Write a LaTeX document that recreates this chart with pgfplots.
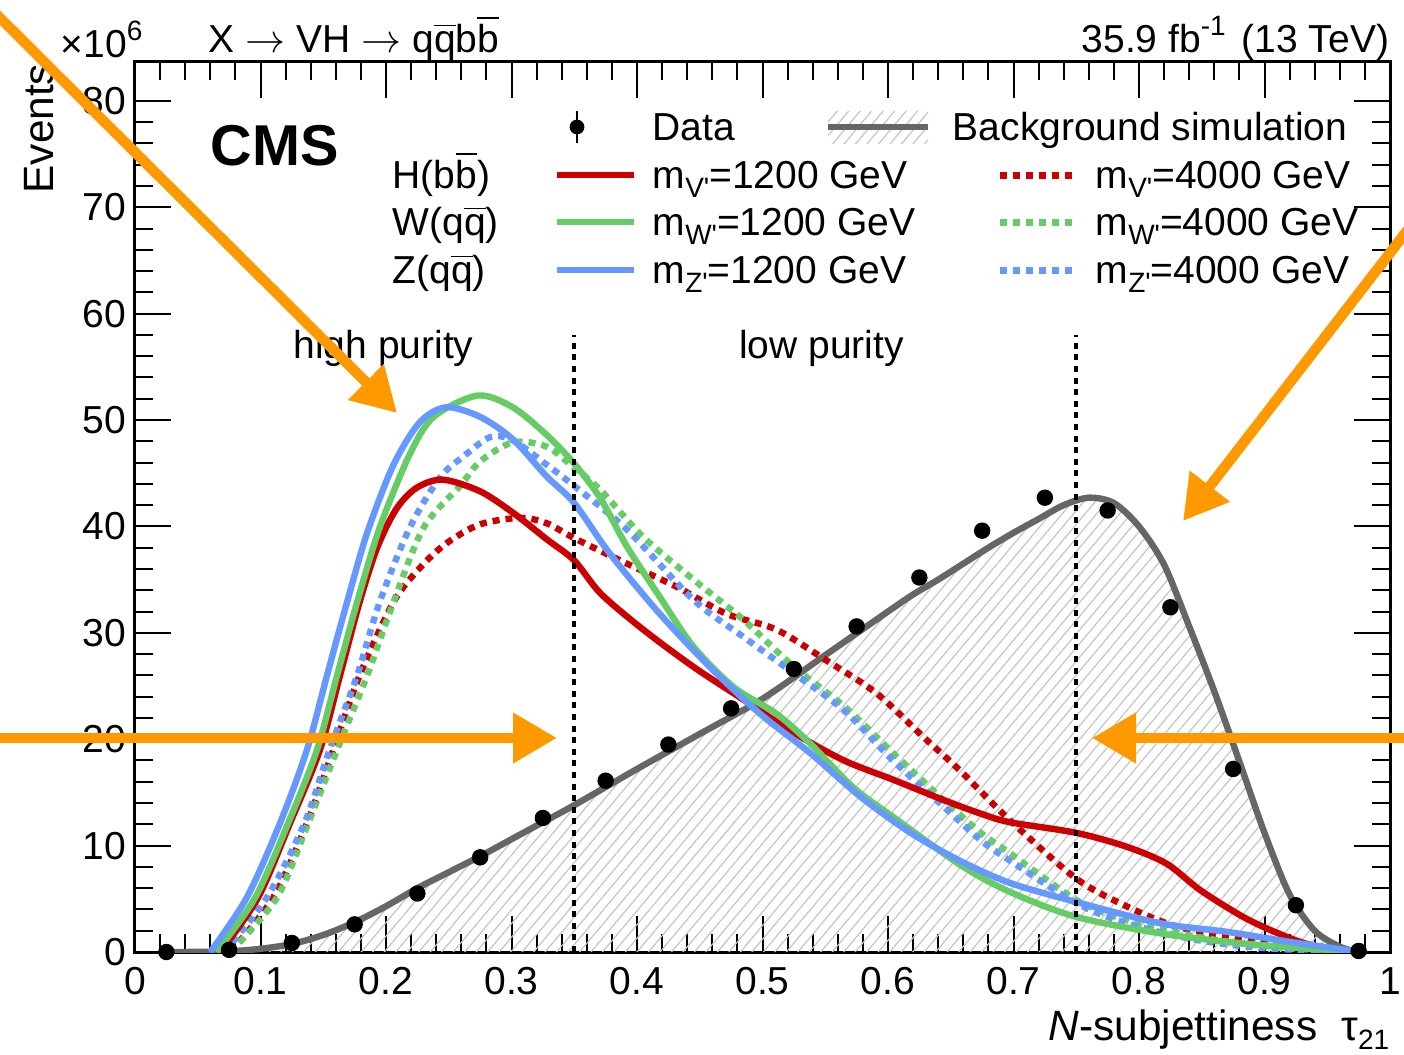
\documentclass[border=0pt]{standalone}
\usepackage{fontspec}
\setmainfont{Liberation Sans}[Ligatures=TeXOff]
\usepackage{pgfplots}
\pgfplotsset{compat=1.18}
\usetikzlibrary{arrows.meta,patterns.meta}

\definecolor{sigred}{RGB}{204,0,0}
\definecolor{siggreen}{RGB}{102,204,102}
\definecolor{sigblue}{RGB}{102,153,255}
\definecolor{bkggray}{RGB}{102,102,102}
\definecolor{hatchgray}{RGB}{196,196,196}
\definecolor{arroworange}{RGB}{255,153,0}

\newcommand{\tf}{\fontsize{9.75}{11.7}\selectfont}
\newcommand{\lf}{\fontsize{10.6}{12.5}\selectfont}
\newcommand{\sub}[1]{\raisebox{-2.3pt}{\fontsize{7}{8}\selectfont #1}}
\newcommand{\super}[1]{\raisebox{4.2pt}{\fontsize{7}{8}\selectfont #1}}
\newcommand{\ovl}[1]{$\overline{\mbox{#1}}$}

\tikzset{
  sig/.style={line width=1.6pt, smooth},
  sigdot/.style={line width=1.6pt, smooth, dash pattern=on 1.75pt off 1.5pt},
  hatch/.style={pattern={Lines[angle=50, distance=2.2pt, line width=0.3pt]}, pattern color=hatchgray},
}

\pgfplotstableread{
x      y
0.025  0
0.06   0.02
0.08   0.1
0.10   0.3
0.125  0.75
0.15   1.6
0.175  2.8
0.20   4.3
0.225  6.0
0.25   7.5
0.275  9.0
0.30   10.6
0.325  12.2
0.35   13.8
0.40   17.2
0.45   20.5
0.50   23.8
0.55   27.9
0.60   32.0
0.62   33.6
0.64   35.0
0.66   36.5
0.68   38.0
0.70   39.4
0.72   40.7
0.74   42.0
0.76   42.7
0.78   42.2
0.80   40.0
0.82   36.4
0.84   30.6
0.86   24.5
0.88   17.9
0.90   11.2
0.92   5.4
0.94   2.0
0.96   0.5
0.975  0
}\bkg

\begin{document}
\begin{tikzpicture}
\path[use as bounding box] (0,0) rectangle (351pt,263.5pt);
\begin{axis}[
  at={(33.75pt,25.5pt)}, anchor=south west,
  scale only axis, width=313.75pt, height=222.5pt,
  xmin=0, xmax=1, ymin=0, ymax=83.65,
  xtick={0,0.1,0.2,0.3,0.4,0.5,0.6,0.7,0.8,0.9,1},
  xticklabels={0,0.1,0.2,0.3,0.4,0.5,0.6,0.7,0.8,0.9,1},
  ytick={0,10,20,30,40,50,60,70,80},
  yticklabels={0,10,20,30,40,50,60,70,80},
  minor x tick num=4, minor y tick num=4,
  tick align=inside, xtick pos=both, ytick pos=both,
  xticklabel pos=bottom, yticklabel pos=left,
  major tick length=9pt, minor tick length=4.5pt,
  every tick/.style={black, line width=0.5pt},
  axis line style={line width=0.75pt},
  tick label style={font=\tf},
  xticklabel style={anchor=base, inner sep=0pt, yshift=-10.5pt},
  yticklabel style={anchor=east, inner sep=0pt, xshift=-2pt},
]
% background simulation: hatched area and line
\addplot[draw=none, hatch, smooth] table {\bkg} \closedcycle;
\addplot[bkggray, line width=1.6pt, smooth] table {\bkg};
% 4000 GeV (dotted)
\addplot[sigdot, sigred] coordinates {
(0.076,0)(0.110,5.1)(0.137,12.1)(0.158,19.0)(0.179,26.0)(0.206,32.9)(0.227,36.1)(0.248,38.4)(0.275,40.2)(0.307,40.8)(0.328,40.3)(0.350,38.9)(0.392,36.5)(0.432,34.3)(0.471,31.8)(0.511,30.3)(0.551,27.4)(0.591,24.3)(0.631,19.9)(0.657,17.1)(0.697,12.4)(0.750,6.9)(0.790,4.3)(0.830,2.4)(0.883,1.2)(0.937,0.43)(0.97,0.1)
};
\addplot[sigdot, siggreen] coordinates {
(0.076,0)(0.113,5.1)(0.138,12.1)(0.161,19.0)(0.185,26.0)(0.206,32.9)(0.230,39.9)(0.259,43.8)(0.275,46.1)(0.301,47.9)(0.328,47.5)(0.350,45.5)(0.371,43.4)(0.405,39.0)(0.445,35.0)(0.485,31.2)(0.525,26.8)(0.565,23.1)(0.604,18.7)(0.644,14.3)(0.674,11.2)(0.697,9.3)(0.750,4.9)(0.790,3.0)(0.843,1.5)(0.896,0.6)(0.96,0.05)
};
\addplot[sigdot, sigblue] coordinates {
(0.071,0)(0.105,5.1)(0.135,12.1)(0.155,19.0)(0.177,26.0)(0.195,32.9)(0.219,39.9)(0.243,44.6)(0.262,46.6)(0.283,48.4)(0.301,48.1)(0.328,45.8)(0.350,43.8)(0.392,39.7)(0.445,33.1)(0.485,29.6)(0.525,26.2)(0.565,22.7)(0.604,18.0)(0.644,13.7)(0.674,10.5)(0.697,8.6)(0.750,4.6)(0.790,2.7)(0.843,1.2)(0.896,0.4)(0.96,0.05)
};
% 1200 GeV (solid)
\addplot[sig, sigred] coordinates {
(0.068,0)(0.098,5.1)(0.1235,12.1)(0.1474,19.0)(0.1634,26.0)(0.179,32.9)(0.193,38.0)(0.208,41.6)(0.224,43.6)(0.245,44.4)(0.275,43.3)(0.301,41.3)(0.328,38.8)(0.350,36.8)(0.371,33.7)(0.405,30.3)(0.445,26.8)(0.485,23.7)(0.525,20.6)(0.565,18.0)(0.604,16.2)(0.644,14.3)(0.674,13.0)(0.697,12.2)(0.750,11.2)(0.790,9.9)(0.822,8.3)(0.849,5.8)(0.883,3.3)(0.910,1.8)(0.937,0.66)(0.971,0.1)
};
\addplot[sig, siggreen] coordinates {
(0.065,0)(0.0957,5.1)(0.122,12.1)(0.145,19.0)(0.161,26.0)(0.177,32.9)(0.195,39.9)(0.219,46.8)(0.238,50.3)(0.273,52.3)(0.301,51.2)(0.328,48.6)(0.350,45.9)(0.371,42.6)(0.392,38.1)(0.418,33.4)(0.445,28.7)(0.477,24.9)(0.511,22.4)(0.538,19.6)(0.572,15.5)(0.604,12.7)(0.66,8.0)(0.70,5.5)(0.750,3.3)(0.817,1.75)(0.883,0.8)(0.950,0.2)(0.975,0)
};
\addplot[sig, sigblue] coordinates {
(0.060,0)(0.089,5.1)(0.1155,12.1)(0.137,19.0)(0.153,26.0)(0.169,32.9)(0.185,39.4)(0.206,45.8)(0.227,49.8)(0.248,51.2)(0.275,50.3)(0.301,48.2)(0.328,44.7)(0.350,42.2)(0.378,37.5)(0.418,31.8)(0.458,26.8)(0.498,22.4)(0.538,18.7)(0.578,14.6)(0.618,11.2)(0.657,8.6)(0.697,6.5)(0.750,4.7)(0.817,2.7)(0.870,1.9)(0.923,0.9)(0.971,0.1)
};
% purity boundaries
\addplot[black, line width=1pt, dash pattern=on 1.5pt off 1.4pt] coordinates {(0.35,0)(0.35,58)};
\addplot[black, line width=1pt, dash pattern=on 1.5pt off 1.4pt] coordinates {(0.75,0)(0.75,58)};
\node[font=\tf, anchor=base] at (axis cs:0.198,55.8) {high purity};
\node[font=\tf, anchor=base] at (axis cs:0.547,55.8) {low purity};
% data
\addplot[only marks, mark=*, mark size=1.85pt, black] coordinates {
(0.025,0)(0.075,0.2)(0.125,0.85)(0.175,2.6)(0.225,5.5)(0.275,8.9)(0.325,12.6)(0.375,16.1)(0.425,19.5)(0.475,22.9)(0.525,26.6)(0.575,30.6)(0.625,35.2)(0.675,39.6)(0.725,42.7)(0.775,41.5)(0.825,32.4)(0.875,17.2)(0.925,4.4)(0.975,0.1)
};
\end{axis}

\begin{scope}[shift={(0pt,263.5pt)}, x=0.25pt, y=-0.25pt, every node/.style={font=\tf, inner sep=0pt}]
% titles and axis labels
\node[anchor=base west] at (208,52) {X $\rightarrow$ VH $\rightarrow$ q\ovl{q}b\ovl{b}};
\node[anchor=base east] at (1390,52) {35.9 fb\super{-1}\hspace{4pt}(13 TeV)};
\node[anchor=base west] at (60,57) {×10\super{6}};
\node[anchor=base east, rotate=90, font=\lf] at (53,63) {Events};
\node[anchor=base east, font=\lf] at (1390,1040) {\textit{N}-subjettiness\hspace{6pt}τ\sub{21}};
\node[anchor=base west, font=\fontsize{14.4}{16}\selectfont\bfseries] at (210,165) {CMS};
% legend
\draw[black, line width=0.5pt] (577,111) -- (577,143);
\fill[black] (577,127) circle[radius=1.85pt];
\node[anchor=base west] at (652,140) {Data};
\fill[hatch] (828,111) rectangle (928,143);
\draw[bkggray, line width=1.6pt] (828,127) -- (928,127);
\node[anchor=base west] at (952,140) {Background simulation};
\node[anchor=base west] at (392,188) {H(b\ovl{b})};
\node[anchor=base west] at (392,235) {W(q\ovl{q})};
\node[anchor=base west] at (392,283) {Z(q\ovl{q})};
\draw[sigred, line width=1.6pt] (557,175) -- (634,175);
\draw[siggreen, line width=1.6pt] (557,222) -- (634,222);
\draw[sigblue, line width=1.6pt] (557,270) -- (634,270);
\node[anchor=base west] at (652,188) {m\sub{V'}=1200 GeV};
\node[anchor=base west] at (652,235) {m\sub{W'}=1200 GeV};
\node[anchor=base west] at (652,283) {m\sub{Z'}=1200 GeV};
\draw[sigred, line width=1.75pt, dash pattern=on 1.75pt off 1.5pt] (1000,175) -- (1072,175);
\draw[siggreen, line width=1.75pt, dash pattern=on 1.75pt off 1.5pt] (1000,222) -- (1072,222);
\draw[sigblue, line width=1.75pt, dash pattern=on 1.75pt off 1.5pt] (1000,270) -- (1072,270);
\node[anchor=base west] at (1095,188) {m\sub{V'}=4000 GeV};
\node[anchor=base west] at (1095,235) {m\sub{W'}=4000 GeV};
\node[anchor=base west] at (1095,283) {m\sub{Z'}=4000 GeV};
% orange annotation arrows
\begin{scope}[arroworange, line width=2.6pt, -{Triangle[length=11pt, width=12pt]}]
\draw (-20,-2) -- (397,413);
\draw (1420,214) -- (1183,521);
\draw (-20,738) -- (557,738);
\draw (1420,738) -- (1092,738);
\end{scope}
\end{scope}
\end{tikzpicture}
\end{document}
